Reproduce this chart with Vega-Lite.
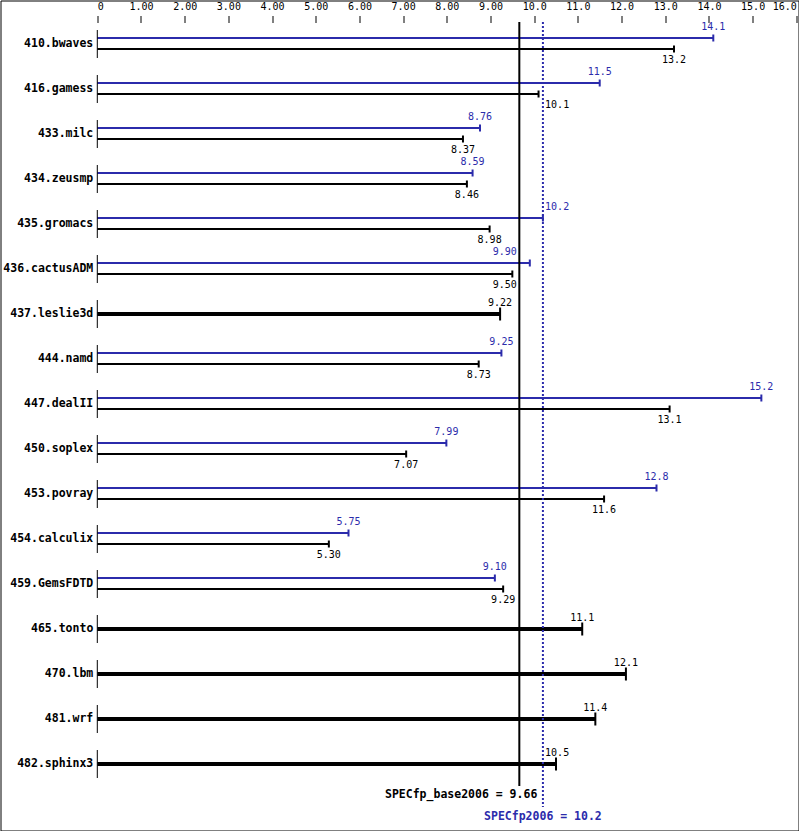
{
  "$schema": "https://vega.github.io/schema/vega-lite/v6.json",
  "width": 798,
  "height": 830,
  "autosize": {"type": "none"},
  "padding": 0.5,
  "background": "white",
  "config": {
    "view": {"stroke": "black", "strokeWidth": 1},
    "font": "DejaVu Sans Mono",
    "tick": {"opacity": 1}
  },
  "datasets": {
    "bench": [
      {"bench": "410.bwaves", "base": 13.2, "peak": 14.1},
      {"bench": "416.gamess", "base": 10.1, "peak": 11.5},
      {"bench": "433.milc", "base": 8.37, "peak": 8.76},
      {"bench": "434.zeusmp", "base": 8.46, "peak": 8.59},
      {"bench": "435.gromacs", "base": 8.98, "peak": 10.2},
      {"bench": "436.cactusADM", "base": 9.50, "peak": 9.90},
      {"bench": "437.leslie3d", "base": 9.22, "peak": null},
      {"bench": "444.namd", "base": 8.73, "peak": 9.25},
      {"bench": "447.dealII", "base": 13.1, "peak": 15.2},
      {"bench": "450.soplex", "base": 7.07, "peak": 7.99},
      {"bench": "453.povray", "base": 11.6, "peak": 12.8},
      {"bench": "454.calculix", "base": 5.30, "peak": 5.75},
      {"bench": "459.GemsFDTD", "base": 9.29, "peak": 9.10},
      {"bench": "465.tonto", "base": 11.1, "peak": null},
      {"bench": "470.lbm", "base": 12.1, "peak": null},
      {"bench": "481.wrf", "base": 11.4, "peak": null},
      {"bench": "482.sphinx3", "base": 10.5, "peak": null}
    ],
    "summary": [
      {"metric": "SPECfp_base2006", "value": 9.66, "kind": "base"},
      {"metric": "SPECfp2006", "value": 10.2, "kind": "peak"}
    ]
  },
  "data": {"name": "bench"},
  "transform": [
    {"calculate": "datum.peak == null ? null : (datum.peak > 9.35 && datum.peak < 10 ? 9.325 : (datum.peak >= 10 && datum.peak < 10.6 ? 10.525 : datum.peak))", "as": "lxPeak"},
    {"calculate": "datum.base > 9.35 && datum.base < 10 ? 9.325 : (datum.base >= 10 && datum.base < 10.6 ? 10.525 : datum.base)", "as": "lxBase"}
  ],
  "layer": [
    {
      "transform": [{"filter": "datum.peak != null"}],
      "mark": {"type": "bar", "color": "#2b2bab", "size": 2, "yOffset": -6},
      "encoding": {
        "x": {
          "field": "peak",
          "type": "quantitative",
          "title": null,
          "scale": {"domain": [0, 16], "range": [96.8, 795.8], "nice": false, "zero": false},
          "axis": {
            "orient": "top",
            "offset": -22,
            "title": null,
            "domain": false,
            "grid": false,
            "values": [0, 0.5, 1, 1.5, 2, 2.5, 3, 3.5, 4, 4.5, 5, 5.5, 6, 6.5, 7, 7.5, 8, 8.5, 9, 9.5, 10, 10.5, 11, 11.5, 12, 12.5, 13, 13.5, 14, 14.5, 15, 15.5, 16],
            "labelExpr": "datum.value % 1 != 0 ? '' : (datum.value == 0 ? '0' : (datum.value < 10 ? format(datum.value, '.2f') : format(datum.value, '.1f')))",
            "labelFlush": true,
            "labelOverlap": false,
            "labelFont": "DejaVu Sans Mono",
            "labelFontSize": 10,
            "labelColor": "black",
            "labelPadding": 4,
            "tickColor": "black",
            "tickWidth": 1,
            "tickSize": {"condition": {"test": "datum.value % 1 === 0", "value": 7}, "value": 4}
          }
        },
        "y": {
          "field": "bench",
          "type": "nominal",
          "sort": null,
          "scale": {
            "type": "band",
            "domain": ["410.bwaves", "416.gamess", "433.milc", "434.zeusmp", "435.gromacs", "436.cactusADM", "437.leslie3d", "444.namd", "447.dealII", "450.soplex", "453.povray", "454.calculix", "459.GemsFDTD", "465.tonto", "470.lbm", "481.wrf", "482.sphinx3", "summary"],
            "range": [21, 831],
            "paddingInner": 0,
            "paddingOuter": 0
          },
          "axis": null
        }
      }
    },
    {
      "mark": {"type": "tick", "orient": "vertical", "color": "black", "opacity": 1, "size": 28, "thickness": 1},
      "encoding": {
        "x": {"datum": 0, "type": "quantitative"},
        "y": {"field": "bench", "type": "nominal"}
      }
    },
    {
      "transform": [{"filter": "datum.peak != null"}],
      "mark": {"type": "tick", "orient": "vertical", "color": "#2b2bab", "opacity": 1, "size": 7, "thickness": 2, "yOffset": -6},
      "encoding": {
        "x": {"field": "peak", "type": "quantitative", "title": null},
        "y": {"field": "bench", "type": "nominal"}
      }
    },
    {
      "transform": [{"filter": "datum.peak != null"}],
      "mark": {"type": "bar", "color": "black", "size": 2, "yOffset": 5},
      "encoding": {
        "x": {"field": "base", "type": "quantitative", "title": null},
        "y": {"field": "bench", "type": "nominal"}
      }
    },
    {
      "transform": [{"filter": "datum.peak != null"}],
      "mark": {"type": "tick", "orient": "vertical", "color": "black", "opacity": 1, "size": 7, "thickness": 2, "yOffset": 5},
      "encoding": {
        "x": {"field": "base", "type": "quantitative", "title": null},
        "y": {"field": "bench", "type": "nominal"}
      }
    },
    {
      "transform": [{"filter": "datum.peak == null"}],
      "mark": {"type": "bar", "color": "black", "size": 4},
      "encoding": {
        "x": {"field": "base", "type": "quantitative", "title": null},
        "y": {"field": "bench", "type": "nominal"}
      }
    },
    {
      "transform": [{"filter": "datum.peak == null"}],
      "mark": {"type": "tick", "orient": "vertical", "color": "black", "opacity": 1, "size": 13, "thickness": 2},
      "encoding": {
        "x": {"field": "base", "type": "quantitative", "title": null},
        "y": {"field": "bench", "type": "nominal"}
      }
    },
    {
      "data": {"name": "summary"},
      "transform": [{"filter": "datum.kind == 'base'"}],
      "mark": {"type": "tick", "orient": "vertical", "color": "black", "opacity": 1, "size": 764, "thickness": 2},
      "encoding": {
        "x": {"field": "value", "type": "quantitative", "title": null},
        "y": {"datum": "447.dealII", "type": "nominal"}
      }
    },
    {
      "data": {"name": "summary"},
      "transform": [{"filter": "datum.kind == 'peak'"}],
      "mark": {"type": "tick", "orient": "vertical", "filled": false, "color": "#2b2bab", "opacity": 1, "strokeWidth": 2, "strokeDash": [2, 2], "size": 785, "thickness": 0, "yOffset": 10.5},
      "encoding": {
        "x": {"field": "value", "type": "quantitative", "title": null},
        "y": {"datum": "447.dealII", "type": "nominal"}
      }
    },
    {
      "transform": [{"filter": "datum.peak != null"}],
      "mark": {"type": "text", "color": "#2b2bab", "font": "DejaVu Sans Mono", "fontSize": 10, "align": "center", "baseline": "middle", "yOffset": -17},
      "encoding": {
        "x": {"field": "lxPeak", "type": "quantitative", "title": null},
        "y": {"field": "bench", "type": "nominal"},
        "text": {"field": "peak", "type": "quantitative", "format": ".3r"}
      }
    },
    {
      "transform": [{"filter": "datum.peak != null"}],
      "mark": {"type": "text", "color": "black", "font": "DejaVu Sans Mono", "fontSize": 10, "align": "center", "baseline": "middle", "yOffset": 16},
      "encoding": {
        "x": {"field": "lxBase", "type": "quantitative", "title": null},
        "y": {"field": "bench", "type": "nominal"},
        "text": {"field": "base", "type": "quantitative", "format": ".3r"}
      }
    },
    {
      "transform": [{"filter": "datum.peak == null"}],
      "mark": {"type": "text", "color": "black", "font": "DejaVu Sans Mono", "fontSize": 10, "align": "center", "baseline": "middle", "yOffset": -11},
      "encoding": {
        "x": {"field": "lxBase", "type": "quantitative", "title": null},
        "y": {"field": "bench", "type": "nominal"},
        "text": {"field": "base", "type": "quantitative", "format": ".3r"}
      }
    },
    {
      "mark": {"type": "text", "color": "black", "font": "DejaVu Sans Mono", "fontSize": 11.5, "fontWeight": "bold", "align": "right", "baseline": "middle", "dx": -4},
      "encoding": {
        "x": {"datum": 0, "type": "quantitative"},
        "y": {"field": "bench", "type": "nominal"},
        "text": {"field": "bench", "type": "nominal"}
      }
    },
    {
      "data": {"name": "summary"},
      "transform": [
        {"filter": "datum.kind == 'base'"},
        {"calculate": "datum.metric + ' = ' + format(datum.value, '.3r')", "as": "label"}
      ],
      "mark": {"type": "text", "color": "black", "font": "DejaVu Sans Mono", "fontSize": 11.5, "fontWeight": "bold", "align": "right", "baseline": "middle", "dx": 18, "yOffset": -14},
      "encoding": {
        "x": {"field": "value", "type": "quantitative", "title": null},
        "y": {"datum": "summary", "type": "nominal"},
        "text": {"field": "label", "type": "nominal"}
      }
    },
    {
      "data": {"name": "summary"},
      "transform": [
        {"filter": "datum.kind == 'peak'"},
        {"calculate": "datum.metric + ' = ' + format(datum.value, '.3r')", "as": "label"}
      ],
      "mark": {"type": "text", "color": "#2b2bab", "font": "DejaVu Sans Mono", "fontSize": 11.5, "fontWeight": "bold", "align": "center", "baseline": "middle", "yOffset": 8},
      "encoding": {
        "x": {"field": "value", "type": "quantitative", "title": null},
        "y": {"datum": "summary", "type": "nominal"},
        "text": {"field": "label", "type": "nominal"}
      }
    }
  ]
}
